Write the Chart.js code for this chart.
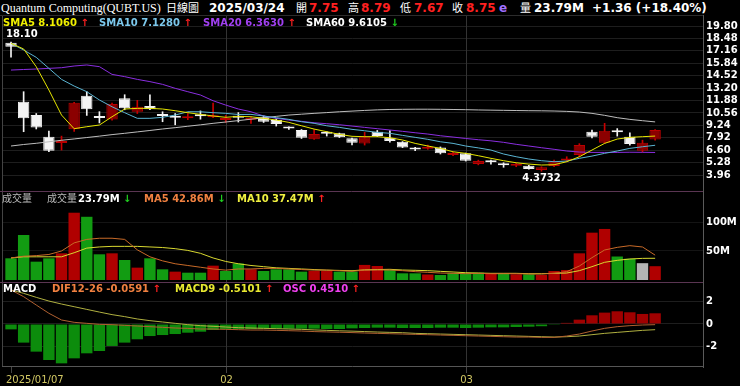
<!DOCTYPE html>
<html>
<head>
<meta charset="utf-8">
<script src="https://cdn.jsdelivr.net/npm/chart.js@4.4.1/dist/chart.umd.min.js"></script>
<style>
  body { margin: 0; background: #000; width: 740px; height: 386px; overflow: hidden; position: relative; }
  canvas { position: absolute; left: 0; }
  .t { position: absolute; white-space: nowrap; font: bold 10px "DejaVu Sans"; line-height: 12px; color: #fff; }
  .hd { font-size: 12px; line-height: 14px; }
  .cjk { font-family: "Noto Sans CJK TC"; font-weight: normal; font-size: 10px; }
  .up { color: #ff2020; }
  .dn { color: #20d020; }
</style>
</head>
<body>
<canvas id="priceChart" width="740" height="176" style="top:15px"></canvas>
<canvas id="volChart" width="740" height="91" style="top:191px"></canvas>
<canvas id="macdChart" width="740" height="104" style="top:282px"></canvas>

<!-- header row -->
<div class="t hd" style="left:1px;top:1px;font:12px 'Liberation Serif';line-height:14px">Quantum Computing(QUBT.US)</div>
<div class="t hd cjk" style="left:166px;top:0px;font-size:11px">日線圖</div>
<div class="t hd" style="left:209px;top:1px">2025/03/24</div>
<div class="t hd cjk" style="left:296px;top:0px;font-size:11px">開</div>
<div class="t hd up" style="left:309px;top:1px">7.75</div>
<div class="t hd cjk" style="left:348px;top:0px;font-size:11px">高</div>
<div class="t hd up" style="left:361px;top:1px">8.79</div>
<div class="t hd cjk" style="left:400px;top:0px;font-size:11px">低</div>
<div class="t hd up" style="left:414px;top:1px">7.67</div>
<div class="t hd cjk" style="left:452px;top:0px;font-size:11px">收</div>
<div class="t hd up" style="left:466px;top:1px">8.75</div>
<div class="t hd" style="left:499px;top:1px;color:#a070ff">e</div>
<div class="t hd cjk" style="left:520px;top:0px;font-size:11px">量</div>
<div class="t hd" style="left:534px;top:1px">23.79M</div>
<div class="t hd" style="left:592px;top:1px">+1.36 (+18.40%)</div>

<!-- SMA legend -->
<div class="t" style="left:3px;top:17px;color:#f0f000">SMA5 8.1060 <span class="up">↑</span></div>
<div class="t" style="left:99px;top:17px;color:#7cc8ec">SMA10 7.1280 <span class="up">↑</span></div>
<div class="t" style="left:203px;top:17px;color:#a040f0">SMA20 6.3630 <span class="up">↑</span></div>
<div class="t" style="left:306px;top:17px;color:#fff">SMA60 9.6105 <span class="dn">↓</span></div>

<!-- volume legend -->
<div class="t cjk" style="left:2px;top:192px;color:#bbb">成交量</div>
<div class="t cjk" style="left:47px;top:192px;color:#bbb">成交量</div>
<div class="t" style="left:78px;top:193px">23.79M <span class="dn">↓</span></div>
<div class="t" style="left:144px;top:193px;color:#f08040">MA5 42.86M <span class="dn">↓</span></div>
<div class="t" style="left:237px;top:193px;color:#f0f040">MA10 37.47M <span class="up">↑</span></div>

<!-- MACD legend -->
<div class="t" style="left:3px;top:283px">MACD</div>
<div class="t" style="left:52px;top:283px;color:#f08040">DIF12-26 -0.0591 <span class="up">↑</span></div>
<div class="t" style="left:175px;top:283px;color:#e8e830">MACD9 -0.5101 <span class="up">↑</span></div>
<div class="t" style="left:283px;top:283px;color:#f040f0">OSC 0.4510 <span class="up">↑</span></div>

<script>
// trading days shown (2025/01/07 .. 2025/03/24)
const days = ['01/07','01/08','01/10','01/13','01/14','01/15','01/16','01/17','01/21','01/22','01/23','01/24','01/27','01/28','01/29','01/30','01/31',
  '02/03','02/04','02/05','02/06','02/07','02/10','02/11','02/12','02/13','02/14','02/18','02/19','02/20','02/21','02/24','02/25','02/26','02/27','02/28',
  '03/03','03/04','03/05','03/06','03/07','03/10','03/11','03/12','03/13','03/14','03/17','03/18','03/19','03/20','03/21','03/24'];
const monthTicks = [0, 17, 36];
const monthLabels = ['2025/01/07', '02', '03'];

const openP = [18.03,11.76,10.34,8.04,7.36,8.82,12.39,10.12,9.88,12.12, 10.69,11.29,10.32,10.10,10.00,10.30,10.10,9.82,10.18,9.85,
  10.10,9.81,9.02,8.75,7.76,8.42,8.40,7.87,7.33,8.57, 7.93,7.50,6.76,6.75,6.90,6.10,6.27,5.15,5.42,5.06,
  4.95,4.95,4.50,4.92,5.50,6.09,8.57,7.40,8.60,8.04, 6.55,7.75];
const highP = [18.10,12.82,10.50,8.64,8.10,11.70,12.82,10.70,11.60,12.50, 11.90,12.50,10.69,10.50,10.50,10.78,11.60,10.30,10.60,10.15,
  10.25,9.95,9.10,8.80,8.80,8.57,8.42,7.90,8.50,8.70, 8.70,7.52,6.90,7.15,6.95,6.37,6.30,5.55,5.56,5.27,
  5.21,5.00,4.85,5.55,5.91,7.30,8.75,9.46,8.90,8.46, 7.67,8.79];
const lowP = [16.50,8.57,8.86,6.44,6.62,8.60,10.30,9.50,9.80,10.90, 10.50,10.90,9.63,9.30,9.85,9.90,10.05,9.55,9.60,9.45,
  9.55,9.17,8.80,7.85,7.76,8.11,7.95,7.17,7.15,8.05, 7.47,6.88,6.55,6.70,6.20,6.02,5.45,5.05,5.13,4.79,
  4.85,4.58,4.3732,4.85,5.38,5.90,7.90,7.33,8.10,7.15, 6.40,7.67];
const closeP = [17.60,9.99,9.03,6.55,7.46,11.65,10.95,10.02,11.51,11.05, 11.22,10.95,10.25,10.04,10.20,10.20,10.30,9.92,10.05,9.95,
  9.63,9.39,8.92,7.93,8.32,8.36,7.97,7.40,7.97,8.11, 7.58,6.90,6.68,6.95,6.27,6.30,5.49,5.45,5.32,5.00,
  5.05,4.60,4.80,5.49,5.60,7.15,8.04,8.67,8.50,7.26, 7.39,8.75];

const sma5 = [17.96,17.36,15.47,13.0,10.34,8.89,9.1,9.28,10.16,10.98, 11.05,11.05,10.98,10.8,10.59,10.41,10.24,10.1,10.2,10.16,
  9.99,9.81,9.56,9.2,8.85,8.57,8.29,8.08,8.04,8.04, 7.93,7.69,7.33,7.05,6.8,6.44,6.27,6.02,5.74,5.49,
  5.27,5.13,5.03,5.06,5.38,5.91,6.62,7.33,7.79,7.97, 8.04,8.106];
const sma10 = [17.96,17.25,16.47,15.3,14.13,13.42,12.82,11.94,11.22,10.59, 9.99,9.99,10.1,10.34,10.69,10.69,10.59,10.52,10.4,10.41,
  10.24,10.06,9.88,9.63,9.46,9.2,9.03,8.82,8.67,8.5, 8.4,8.18,7.97,7.76,7.5,7.33,7.05,6.85,6.62,6.2,
  5.91,5.67,5.49,5.38,5.45,5.74,5.98,6.27,6.52,6.8, 6.97,7.128];
const sma20 = [15.12,15.18,15.23,15.3,15.37,15.55,15.66,15.48,14.66,14.42, 14.13,13.89,13.6,13.18,12.82,12.47,11.86,11.4,10.98,10.69,
  10.24,9.99,9.81,9.67,9.52,9.42,9.31,9.17,9.03,8.89, 8.75,8.61,8.46,8.32,8.14,8.0,7.85,7.72,7.6,7.44,
  7.23,7.05,6.87,6.7,6.52,6.41,6.37,6.37,6.37,6.39, 6.38,6.363];
const sma60 = [7.05,7.21,7.34,7.5,7.66,7.8,7.95,8.1,8.26,8.4, 8.55,8.7,8.86,9.0,9.15,9.3,9.46,9.6,9.75,9.9,
  10.05,10.2,10.34,10.43,10.52,10.6,10.69,10.76,10.83,10.89, 10.93,10.95,10.96,10.96,10.95,10.93,10.91,10.88,10.86,10.84,
  10.82,10.8,10.79,10.77,10.73,10.66,10.52,10.31,10.06,9.88, 9.74,9.6105];
const priceTicks = [3.96,5.28,6.60,7.92,9.24,10.56,11.88,13.20,14.52,15.84,17.16,18.48,19.80];

// volume in millions; dir 1 = up (red), -1 = down (green), 0 = unchanged (grey)
const volume = [37.4,77.6,31.6,37.4,46,116,109,44.3,46,34.5, 21.3,37.4,18.4,14.4,12.6,12.6,24.7,15.5,28.4,18.4,
  15.5,18.4,18.4,14.4,15.5,15.5,14.4,14.4,26,24.1, 17.2,11.5,11.5,9.5,8.6,11.5,11.5,12.6,11.5,11.5,
  9.8,9.8,8.6,15.5,17.2,46,81.6,88,40.5,36.7, 29,23.79];
const volDir = [-1,-1,-1,-1,1,1,-1,-1,1,-1, 1,-1,-1,1,-1,-1,1,-1,-1,1, -1,-1,-1,-1,1,1,-1,-1,1,1,
  -1,-1,-1,1,-1,-1,-1,-1,1,-1, 1,-1,1,1,1,1,1,1,-1,-1, 0,1];
const volMa5 = [38,41,42,44,50,64,70,72,72,70, 52,40,33,28,25,22,19,17,19,19, 20,20,19,18,17,17,16,15,17,17.2,
  17.2,16.1,14.4,13.2,12,11.5,10.9,11.5,10.9,10.9, 10.9,10.3,10.3,11.5,14.4,24.1,38.5,51.7,56.3,59.2, 56.9,42.86];
const volMa10 = [38,40,40,40,40,47,55,57,58,58, 58,57,56,54,51,46,38,32,28,25, 23,21,20,19,18,17,16.5,16,17.5,18,
  18.4,17.2,16.7,16.1,14.9,13.8,12.6,12,11.5,11.5, 11.5,10.9,10.9,11.5,12,16.1,23,30.5,33.9,36.2, 37.3,37.47];
const volTicks = [50, 100];

const dif = [3.05,2.45,1.7,0.96,0.36,0.15,0.06,-0.03,-0.06,-0.12, -0.18,-0.24,-0.3,-0.36,-0.39,-0.45,-0.45,-0.48,-0.51,-0.54,
  -0.54,-0.57,-0.6,-0.63,-0.68,-0.71,-0.74,-0.77,-0.81,-0.84, -0.87,-0.9,-0.93,-0.96,-0.99,-1.02,-1.05,-1.08,-1.11,-1.14,
  -1.17,-1.17,-1.2,-1.2,-1.08,-0.9,-0.63,-0.39,-0.24,-0.15, -0.09,-0.0591];
const macd9 = [3.05,2.75,2.39,2.06,1.79,1.55,1.31,1.07,0.84,0.66, 0.45,0.3,0.18,0.06,-0.06,-0.15,-0.21,-0.27,-0.33,-0.36,
  -0.39,-0.42,-0.45,-0.48,-0.53,-0.57,-0.61,-0.64,-0.68,-0.72, -0.75,-0.78,-0.84,-0.87,-0.9,-0.93,-0.96,-0.99,-1.02,-1.05,
  -1.08,-1.11,-1.14,-1.17,-1.14,-1.08,-0.96,-0.84,-0.75,-0.66, -0.57,-0.5101];
const oscBars = [-0.48,-1.67,-2.48,-3.23,-3.53,-3.08,-2.63,-2.42,-1.97,-1.67, -1.37,-1.08,-0.99,-0.9,-0.78,-0.69,-0.54,-0.48,-0.45,-0.45,
  -0.42,-0.42,-0.42,-0.42,-0.42,-0.45,-0.45,-0.39,-0.36,-0.33, -0.33,-0.36,-0.36,-0.36,-0.33,-0.33,-0.36,-0.33,-0.3,-0.3,
  -0.27,-0.24,-0.2,-0.02,0.1,0.39,0.78,1.02,1.14,1.05, 0.9,0.96];
const macdTicks = [-2, 0, 2];

const xMin = -0.713, xMax = 54.79;
const pts = arr => arr.map((v, i) => ({ x: i, y: v }));
const isUp = i => closeP[i] > openP[i];

// vertical month lines, left border and panel separator
const framePlugin = {
  id: 'frame',
  beforeDatasetsDraw(chart, args, opts) {
    const { ctx, chartArea: a, scales: { x } } = chart;
    ctx.save();
    ctx.lineWidth = 1;
    ctx.strokeStyle = '#333';
    monthTicks.slice(1).forEach(i => {
      const px = Math.round(x.getPixelForValue(i)) + 0.5;
      ctx.beginPath(); ctx.moveTo(px, a.top); ctx.lineTo(px, a.bottom); ctx.stroke();
    });
    ctx.strokeStyle = '#444';
    ctx.beginPath(); ctx.moveTo(a.left + 0.5, a.top); ctx.lineTo(a.left + 0.5, a.bottom); ctx.stroke();
    if (opts.top) {
      ctx.strokeStyle = opts.top;
      ctx.beginPath(); ctx.moveTo(0, a.top + 0.5); ctx.lineTo(a.right, a.top + 0.5); ctx.stroke();
    }
    if (opts.dates) {
      ctx.strokeStyle = '#555';
      ctx.beginPath(); ctx.moveTo(a.left, a.bottom - 0.5); ctx.lineTo(a.right, a.bottom - 0.5); ctx.stroke();
      ctx.font = '10px "DejaVu Sans"';
      ctx.fillStyle = '#d2c864';
      ctx.textBaseline = 'middle';
      monthTicks.forEach((i, k) => {
        const px = Math.round(x.getPixelForValue(i)) + 0.5;
        ctx.strokeStyle = '#444';
        ctx.beginPath(); ctx.moveTo(px, a.bottom); ctx.lineTo(px, a.bottom + 6); ctx.stroke();
        const w = ctx.measureText(monthLabels[k]).width;
        ctx.fillText(monthLabels[k], Math.max(a.left + 4, px - w / 2), a.bottom + 13);
      });
    }
    ctx.restore();
  }
};

// high / low marks on the price panel
const extremePlugin = {
  id: 'extremes',
  afterDatasetsDraw(chart) {
    const { ctx, chartArea: a, scales: { x, y } } = chart;
    const fmt = v => Math.abs(v * 100 - Math.round(v * 100)) < 1e-6 ? v.toFixed(2) : v.toFixed(4);
    const hi = highP.indexOf(Math.max(...highP));
    const lo = lowP.indexOf(Math.min(...lowP));
    ctx.save();
    ctx.font = 'bold 10px "DejaVu Sans"';
    ctx.fillStyle = '#fff';
    [[hi, highP[hi], 'bottom', -3], [lo, lowP[lo], 'top', 2]].forEach(([i, v, base, dy]) => {
      const s = fmt(v);
      const w = ctx.measureText(s).width;
      const px = x.getPixelForValue(i);
      ctx.textBaseline = base;
      ctx.fillText(s, Math.max(a.left + 4, px - w / 2), y.getPixelForValue(v) + dy);
    });
    ctx.restore();
  }
};

function yScale(min, max, ticks, fmt, gridColor) {
  return {
    position: 'right', min, max,
    afterBuildTicks: s => { s.ticks = ticks.map(v => ({ value: v })); },
    afterFit: s => { s.width = 37; s.paddingTop = 0; s.paddingBottom = 0; },
    grid: { color: gridColor, drawTicks: false },
    border: { color: '#5a5a5a' },
    ticks: { autoSkip: false, padding: 3, color: '#fff', font: { family: 'DejaVu Sans', size: 10, weight: 'bold' }, callback: fmt }
  };
}

function baseOptions(yOpts, frame, padBottom) {
  return {
    responsive: false, animation: false, events: [],
    layout: { padding: { left: 2, right: 0, top: 0, bottom: padBottom } },
    plugins: { legend: { display: false }, tooltip: { enabled: false }, frame },
    scales: {
      x: { type: 'linear', display: false, min: xMin, max: xMax, offset: false, grid: { offset: false } },
      y: yOpts
    }
  };
}

const lineDs = (data, color) => ({ type: 'line', data: pts(data), borderColor: color, borderWidth: 1, pointRadius: 0, tension: 0, order: 0 });

new Chart(document.getElementById('priceChart'), {
  type: 'bar',
  data: {
    datasets: [
      lineDs(sma5, '#e6e600'), lineDs(sma10, '#5ab4d2'), lineDs(sma20, '#8a2ee0'), lineDs(sma60, '#bdbdbd'),
      {
        data: days.map((d, i) => ({ x: i, y: [openP[i], closeP[i]] })),
        backgroundColor: days.map((d, i) => isUp(i) ? '#8b0000' : '#f4f4f4'),
        borderColor: days.map((d, i) => isUp(i) ? '#b80000' : '#f4f4f4'),
        borderWidth: 1, borderSkipped: false, minBarLength: 2,
        grouped: false, barPercentage: 0.9, categoryPercentage: 1, order: 1
      },
      {
        data: days.map((d, i) => ({ x: i, y: [lowP[i], highP[i]] })),
        backgroundColor: days.map((d, i) => isUp(i) ? '#c80000' : '#f4f4f4'),
        barThickness: 1, order: 2
      }
    ]
  },
  options: baseOptions(yScale(2.27, 20.97, priceTicks, v => v.toFixed(2), '#1e1e1e'), { top: '#2c2c2c' }, 0),
  plugins: [framePlugin, extremePlugin]
});

new Chart(document.getElementById('volChart'), {
  type: 'bar',
  data: {
    datasets: [
      lineDs(volMa5, '#c86a28'), lineDs(volMa10, '#d8d830'),
      {
        data: pts(volume),
        backgroundColor: volDir.map(d => d > 0 ? '#b00000' : d < 0 ? '#129c12' : '#b4b4b4'),
        barPercentage: 0.9, categoryPercentage: 1, order: 1
      }
    ]
  },
  options: baseOptions(yScale(-3.45, 153.45, volTicks, v => v + 'M', '#141414'), { top: '#5a3552' }, 0),
  plugins: [framePlugin]
});

new Chart(document.getElementById('macdChart'), {
  type: 'bar',
  data: {
    datasets: [
      lineDs(dif, '#b06030'), lineDs(macd9, '#b0b040'),
      {
        data: pts(oscBars),
        backgroundColor: oscBars.map(v => v >= 0 ? '#a00000' : '#0c8c0c'),
        barPercentage: 0.9, categoryPercentage: 1, order: 1
      }
    ]
  },
  options: baseOptions(yScale(-3.857, 3.767, macdTicks, v => String(v), '#1e1e1e'), { top: '#5a3552', dates: true }, 19),
  plugins: [framePlugin]
});
</script>
</body>
</html>
